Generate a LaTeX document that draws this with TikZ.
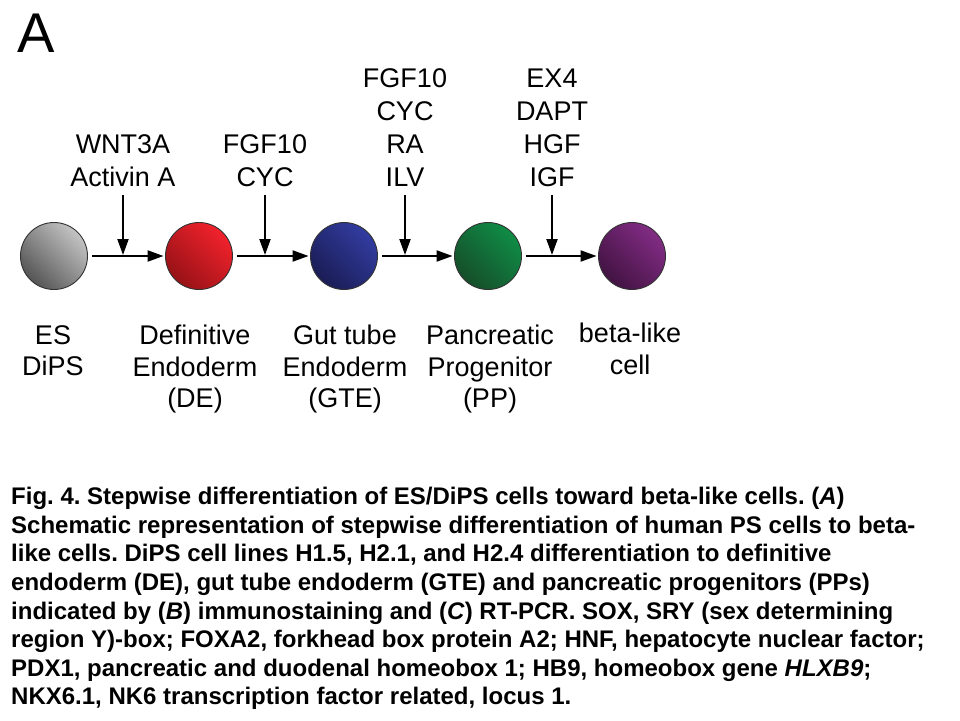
\documentclass[tikz,border=0pt]{standalone}
\usepackage{fontspec}
\setmainfont{Liberation Sans}
\usetikzlibrary{arrows.meta}
\definecolor{grayL}{HTML}{C4C4C4}
\definecolor{grayD}{HTML}{555555}
\definecolor{redL}{HTML}{F2222C}
\definecolor{redD}{HTML}{961216}
\definecolor{blueL}{HTML}{323CA0}
\definecolor{blueD}{HTML}{1A1D55}
\definecolor{greenL}{HTML}{0F8C46}
\definecolor{greenD}{HTML}{164E2A}
\definecolor{purpL}{HTML}{822C84}
\definecolor{purpD}{HTML}{421342}
\frenchspacing
\begin{document}
\begin{tikzpicture}[x=1pt,y=-1pt,
  lab/.style={font=\fontsize{27}{33}\selectfont, align=center, inner sep=0pt, anchor=north},
  blab/.style={font=\fontsize{27}{31.5}\selectfont, align=center, inner sep=0pt, anchor=north},
  cell/.style={circle, minimum size=67pt, inner sep=0pt, draw=black!80, line width=0.9pt},
  harrow/.style={line width=2pt, -{Triangle[length=16pt,width=11pt]}, shorten <=4.5pt, shorten >=1.5pt},
  varrow/.style={line width=2pt, -{Triangle[length=16pt,width=11pt]}, shorten <=8pt},
]
\fill[white] (0,0) rectangle (960,720);
\path[use as bounding box] (0,0) rectangle (960,720);

\node[font=\fontsize{56}{56}\selectfont, anchor=base west, inner sep=0pt] (panel) at (17,52) {A};

% cells
\node[cell, top color=grayL, bottom color=grayD, shading angle=-45] (c1) at (54,256) {};
\node[cell, top color=redL, bottom color=redD, shading angle=-45] (c2) at (199,256) {};
\node[cell, top color=blueL, bottom color=blueD, shading angle=-45] (c3) at (344,256) {};
\node[cell, top color=greenL, bottom color=greenD, shading angle=-45] (c4) at (488,256) {};
\node[cell, top color=purpL, bottom color=purpD, shading angle=-45] (c5) at (632,256) {};

% horizontal arrows
\draw[harrow] (c1) -- (c2);
\draw[harrow] (c2) -- (c3);
\draw[harrow] (c3) -- (c4);
\draw[harrow] (c4) -- (c5);

% junction points
\coordinate (m1) at (123,255);
\coordinate (m2) at (265,255);
\coordinate (m3) at (405,255);
\coordinate (m4) at (552,255);

% factor labels
\node[lab] (t1) at (123,134.7) {WNT3A\\Activin A};
\node[lab] (t2) at (265,134.7) {FGF10\\CYC};
\node[lab] (t3) at (405,68.7) {FGF10\\CYC\\RA\\ILV};
\node[lab] (t4) at (552,68.7) {EX4\\DAPT\\HGF\\IGF};

\draw[varrow] (t1) -- (m1);
\draw[varrow] (t2) -- (m2);
\draw[varrow] (t3) -- (m3);
\draw[varrow] (t4) -- (m4);

% stage labels
\node[blab] (b1) at (53,325) {ES\\DiPS};
\node[blab] (b2) at (195,325) {Definitive\\Endoderm\\(DE)};
\node[blab] (b3) at (345,325) {Gut tube\\Endoderm\\(GTE)};
\node[blab] (b4) at (490,325) {Pancreatic\\Progenitor\\(PP)};
\node[blab] (b5) at (630,323) {beta-like\\cell};

% caption
\node[anchor=north west, align=left, inner sep=0pt,
      font=\bfseries\fontsize{24}{28.6}\selectfont] (caption) at (11,487)
{Fig. 4. Stepwise differentiation of ES/DiPS cells toward beta-like cells. (\textit{A})\\
Schematic representation of stepwise differentiation of human PS cells to beta-\\
like cells. DiPS cell lines H1.5, H2.1, and H2.4 differentiation to definitive\\
endoderm (DE), gut tube endoderm (GTE) and pancreatic progenitors (PPs)\\
indicated by (\textit{B}) immunostaining and (\textit{C}) RT-PCR. SOX, SRY (sex determining\\
region Y)-box; FOXA2, forkhead box protein A2; HNF, hepatocyte nuclear factor;\\
PDX1, pancreatic and duodenal homeobox 1; HB9, homeobox gene \textit{HLXB9};\\
NKX6.1, NK6 transcription factor related, locus 1.};
\end{tikzpicture}
\end{document}
